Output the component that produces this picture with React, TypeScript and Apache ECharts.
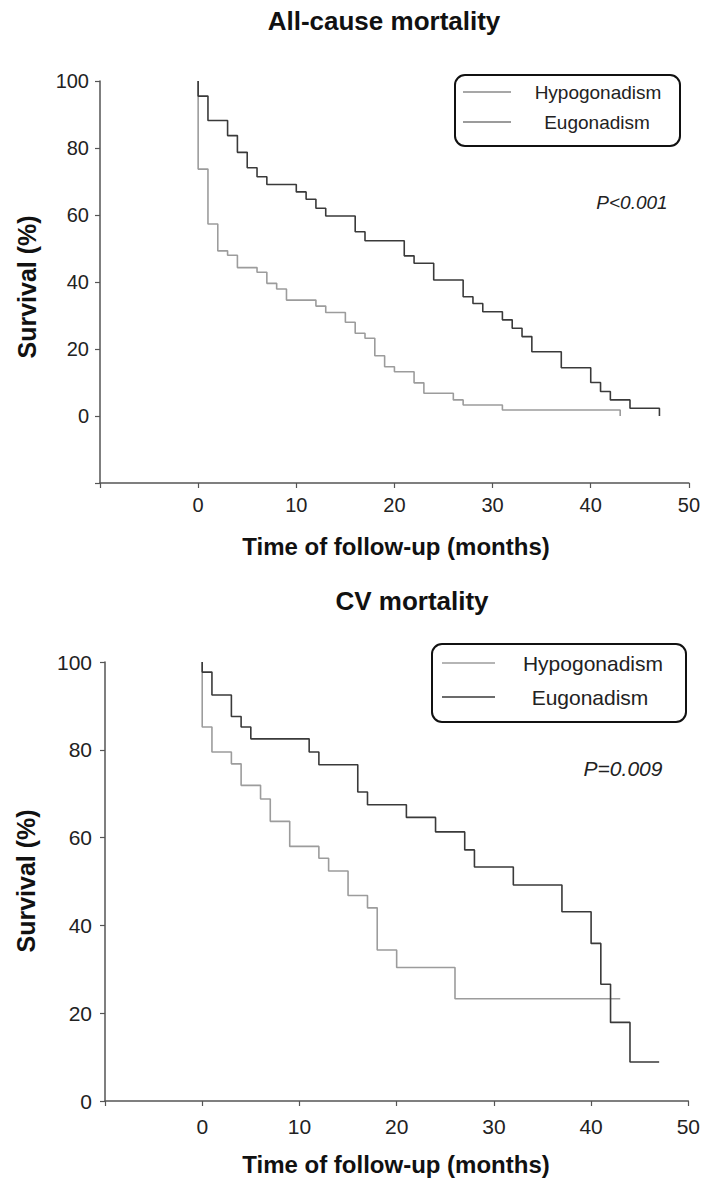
import React, { useEffect, useRef } from "react";
import * as echarts from "echarts";

// ---- Data ----
// All-cause mortality
const acHypoTime = [0, 0, 1, 2, 3, 4, 6, 7, 8, 9, 12, 13, 15, 16, 17, 18, 19, 20, 22, 23, 26, 27, 31, 43, 43];
const acHypoSurv = [100, 73.7, 57.3, 49.3, 48, 44.3, 42.9, 39.6, 37.9, 34.6, 32.8, 30.9, 28, 24.7, 23.2, 18, 14.7, 13.2, 9.9, 6.8, 4.8, 3.3, 1.8, 1.8, 0];
const acEuTime = [0, 0, 1, 3, 4, 5, 6, 7, 10, 11, 12, 13, 16, 17, 21, 22, 24, 27, 28, 29, 31, 32, 33, 34, 37, 40, 41, 42, 44, 47, 47];
const acEuSurv = [100, 95.5, 88.2, 83.7, 78.7, 74.1, 71.4, 69.1, 66.9, 64.7, 62, 59.7, 55, 52.3, 47.8, 45.6, 40.6, 35.6, 33.6, 31.1, 28.7, 26.2, 23.7, 19.2, 14.4, 10, 7.3, 4.8, 2.3, 2.3, 0];

// CV mortality
const cvHypoTime = [0, 0, 1, 3, 4, 6, 7, 9, 12, 13, 15, 17, 18, 20, 26, 43];
const cvHypoSurv = [100, 85.2, 79.5, 76.8, 71.9, 68.8, 63.7, 58, 55.3, 52.4, 46.8, 44, 34.4, 30.4, 23.3, 23.3];
const cvEuTime = [0, 0, 1, 3, 4, 5, 11, 12, 16, 17, 21, 24, 27, 28, 32, 37, 40, 41, 42, 44, 47];
const cvEuSurv = [100, 97.7, 92.5, 87.6, 85.2, 82.5, 79.5, 76.6, 70.4, 67.5, 64.6, 61.3, 57.2, 53.3, 49.2, 43.1, 35.9, 26.6, 17.9, 8.9, 8.9];

const seriesNames = ["Hypogonadism", "Eugonadism"];
const chartTitles = ["All-cause mortality", "CV mortality"];
const pValues = ["P<0.001", "P=0.009"];
const xAxisTitle = "Time of follow-up (months)";
const yAxisTitle = "Survival (%)";

const HYPO_COLOR = "#9c9c9c";
const EU_COLOR = "#3a3a3a";
const AXIS_COLOR = "#555";
const FONT = "'Liberation Sans', Arial, Helvetica, sans-serif";

const zip = (t: number[], s: number[]) => t.map((v, i) => [v, s[i]]);

export default function App() {
  const ref = useRef<HTMLDivElement>(null);

  useEffect(() => {
    if (!ref.current) return;
    const chart = echarts.init(ref.current, undefined, { renderer: "svg" });

    const hideNeg = (v: number) => (v < 0 ? "" : String(v));

    const xAxisBase = (gridIndex: number, margin: number, fontSize: number) => ({
      type: "value",
      gridIndex,
      min: -10,
      max: 50,
      interval: 10,
      axisLine: { show: true, onZero: false, lineStyle: { color: AXIS_COLOR, width: 1.5 } },
      axisTick: { show: true, length: 5, lineStyle: { color: AXIS_COLOR, width: 1.2 } },
      axisLabel: { formatter: hideNeg, color: "#222", fontSize, fontFamily: FONT, margin },
      splitLine: { show: false },
    });

    const yAxisBase = (gridIndex: number, min: number, fontSize: number, margin: number) => ({
      type: "value",
      gridIndex,
      min,
      max: 100,
      interval: 20,
      axisLine: { show: true, onZero: false, lineStyle: { color: AXIS_COLOR, width: 1.5 } },
      axisTick: { show: true, length: 5, lineStyle: { color: AXIS_COLOR, width: 1.2 } },
      axisLabel: { formatter: hideNeg, color: "#222", fontSize, fontFamily: FONT, margin },
      splitLine: { show: false },
    });

    const lineSeries = (name: string, data: number[][], color: string, idx: number) => ({
      name,
      type: "line",
      step: "end",
      xAxisIndex: idx,
      yAxisIndex: idx,
      data,
      showSymbol: false,
      symbol: "none",
      lineStyle: { color, width: 1.6 },
      itemStyle: { color },
      emphasis: { disabled: true },
    });

    const text = (
      x: number,
      y: number,
      str: string,
      font: string,
      rotation = 0,
      fill = "#111"
    ) => ({
      type: "text",
      x,
      y,
      rotation,
      silent: true,
      style: {
        text: str,
        font,
        fill,
        align: "center",
        verticalAlign: "middle",
      },
    });

    const legend = (
      bx: number,
      by: number,
      bw: number,
      bh: number,
      lx1: number,
      lx2: number,
      ly1: number,
      ly2: number,
      tx1: number,
      tx2: number,
      fs: number,
      c1: string,
      c2: string
    ) => ({
      type: "group",
      silent: true,
      children: [
        {
          type: "rect",
          shape: { x: bx, y: by, width: bw, height: bh, r: 10 },
          style: { fill: "#fff", stroke: "#111", lineWidth: 2 },
        },
        { type: "line", shape: { x1: lx1, y1: ly1, x2: lx2, y2: ly1 }, style: { stroke: c1, lineWidth: 1.5 } },
        { type: "line", shape: { x1: lx1, y1: ly2, x2: lx2, y2: ly2 }, style: { stroke: c2, lineWidth: 1.5 } },
        text(tx1, ly1, seriesNames[0], `${fs}px ${FONT}`, 0, "#222"),
        text(tx2, ly2, seriesNames[1], `${fs}px ${FONT}`, 0, "#222"),
      ],
    });

    chart.setOption({
      animation: false,
      backgroundColor: "#fff",
      grid: [
        { left: 100, right: 11, top: 81, bottom: 1179 - 483 },
        { left: 105, right: 11, top: 662, bottom: 1179 - 1101 },
      ],
      xAxis: [xAxisBase(0, 12, 20), xAxisBase(1, 15, 21)],
      yAxis: [yAxisBase(0, -20, 20, 11), yAxisBase(1, 0, 21, 13)],
      series: [
        lineSeries(seriesNames[0], zip(acHypoTime, acHypoSurv), HYPO_COLOR, 0),
        lineSeries(seriesNames[1], zip(acEuTime, acEuSurv), EU_COLOR, 0),
        lineSeries(seriesNames[0], zip(cvHypoTime, cvHypoSurv), HYPO_COLOR, 1),
        lineSeries(seriesNames[1], zip(cvEuTime, cvEuSurv), EU_COLOR, 1),
      ],
      graphic: [
        text(384, 21, chartTitles[0], `bold 26px ${FONT}`),
        text(412, 601, chartTitles[1], `bold 26px ${FONT}`),
        text(27, 287, yAxisTitle, `bold 25px ${FONT}`, Math.PI / 2),
        text(26, 881, yAxisTitle, `bold 25px ${FONT}`, Math.PI / 2),
        text(396, 546, xAxisTitle, `bold 24px ${FONT}`),
        text(396, 1164, xAxisTitle, `bold 24px ${FONT}`),
        text(632, 202, pValues[0], `italic 19px ${FONT}`, 0, "#222"),
        text(623, 768, pValues[1], `italic 21px ${FONT}`, 0, "#222"),
        legend(455, 75, 225, 71, 463, 511, 92, 122, 598, 597, 19, "#8a8a8a", "#7a7a7a"),
        legend(432, 644, 254, 78, 442, 495, 663, 697, 593, 590, 21, HYPO_COLOR, EU_COLOR),
      ],
    });

    return () => chart.dispose();
  }, []);

  return (
    <div
      ref={ref}
      style={{ position: "absolute", left: 0, top: 0, width: 703, height: 1179, background: "#fff" }}
    />
  );
}
